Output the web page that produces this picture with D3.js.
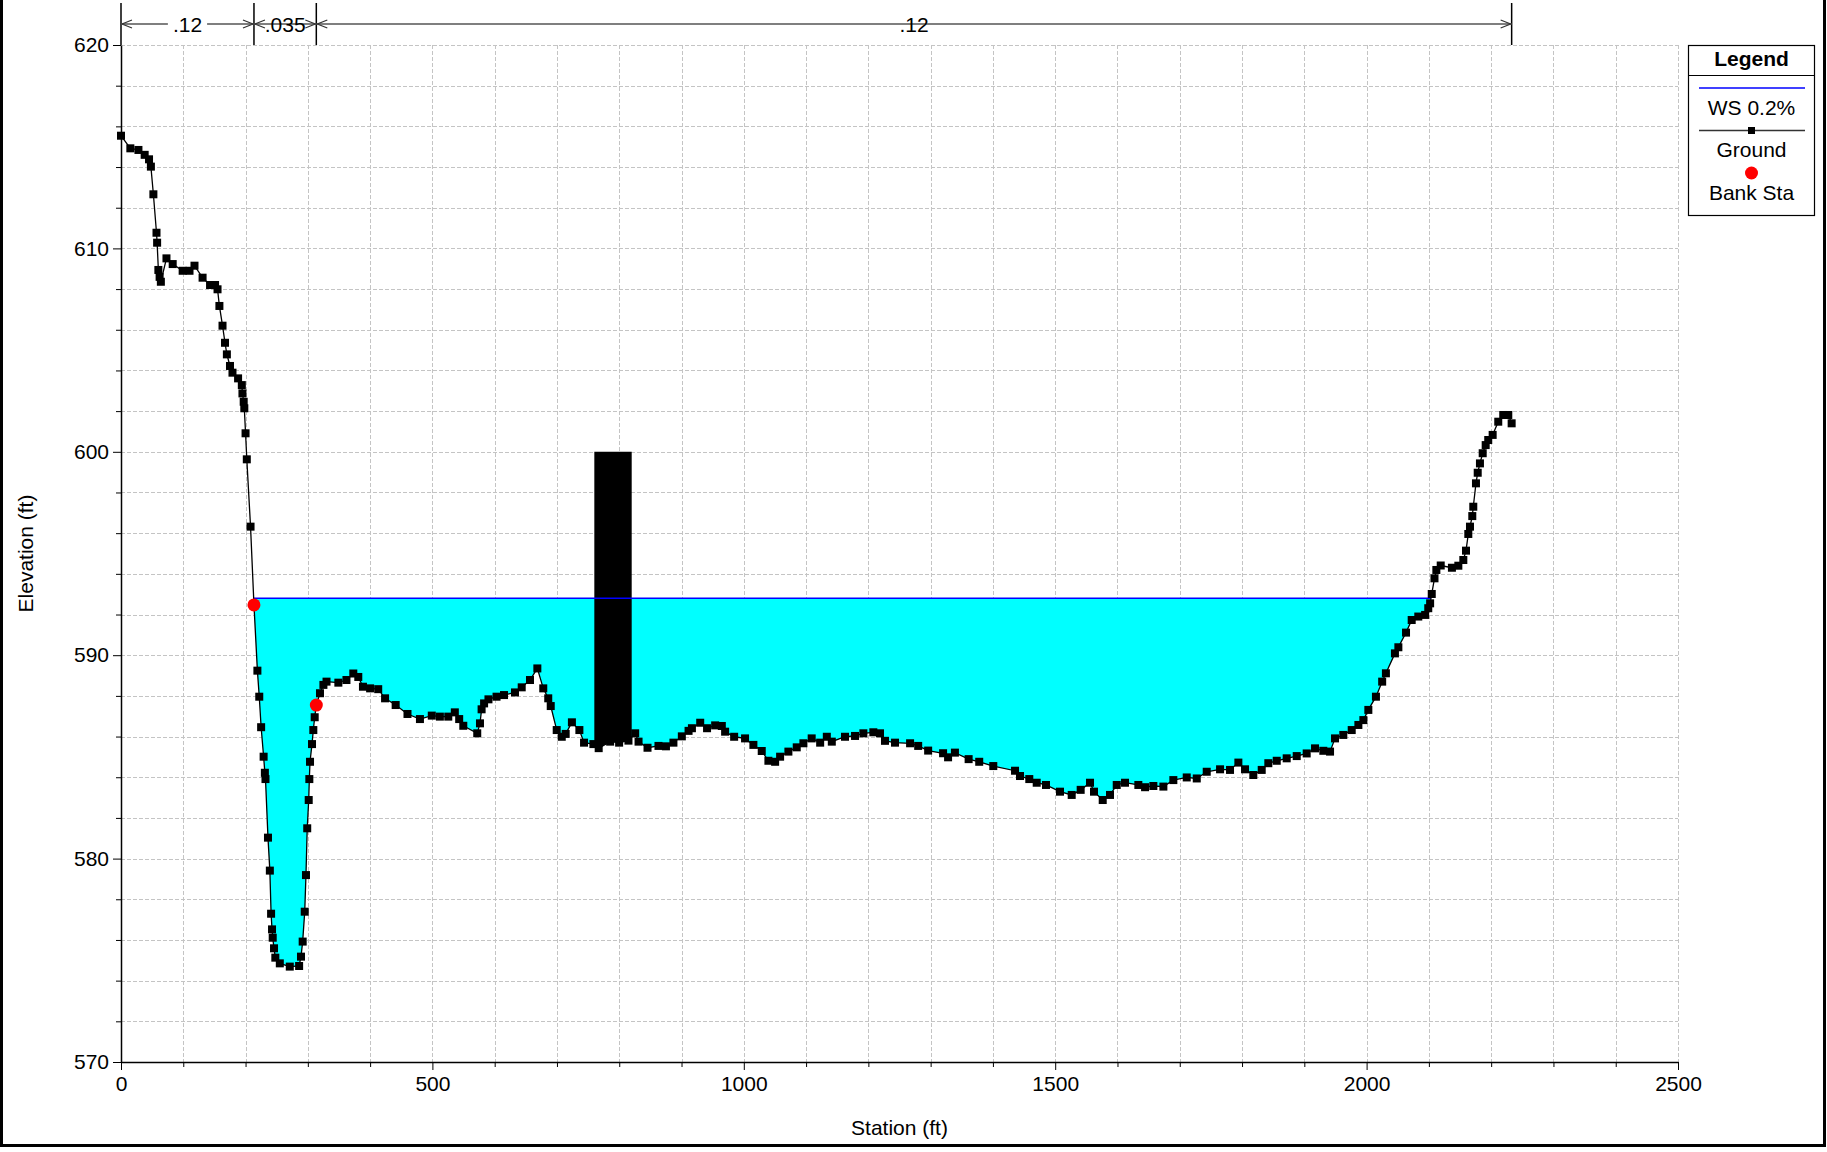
<!DOCTYPE html>
<html><head><meta charset="utf-8">
<script src="https://cdn.jsdelivr.net/npm/d3@7"></script>
<style>body{margin:0;background:#fff;} text{font-family:"Liberation Sans",Arial,sans-serif;}</style>
</head><body><svg id="c" width="1827" height="1152"></svg>
<script>
// ---------------- data ----------------
const groundSta = [0,15,28,38,45,48,52,57,58,60,62,64,73,83,99,110,118,131,143,151,155,158,163,167,170,175,179,188,194,195,197,198,200,202,208,213.5,
219,222,225,229,231,232,236,239,241,242.5,243.6,245.7,247.8,255,271,286,289,291.7,295,297,299,301.4,302.4,303.5,306.7,308.8,311,313.6,
319.5,325,330,349,362,373,381,388.5,400,413,424,441,460,480,499,512,525.5,536,543,549.6,572,576.4,579,583,590,603,615,632.6,643.4,656.7,668.5,
678,686,690,699.6,707.7,714,724,736,743.5,758.5,767,785.4,799.8,814.8,825.6,831,845.4,863,875,887,900.5,911.3,916.7,930,941,954,964.7,970,
984.5,1002,1015.4,1028.8,1039.5,1050.3,1058.3,1071.6,1085,1095.7,1109,1122.6,1133.3,1141.3,1162.5,1178.6,1192,1208,1218.7,1226.7,1242.8,
1267,1280,1296,1320,1328,1339,1361,1378,1400.6,1435.5,1443.5,1458.4,1470.3,1485.2,1507.7,1526.5,1540.9,1555.9,1562.3,1576.3,1588,1598.8,
1612.1,1633.5,1644.3,1657.6,1673.7,1689.7,1711.2,1727.3,1743.3,1764.7,1780.7,1794.1,1804.8,1818.1,1831.6,1842.2,1855.7,1871.7,1887.8,
1903.8,1917.2,1930.5,1941.3,1949.3,1962.6,1976.1,1986.8,1994.8,2002.8,2015,2025,2031,2045.5,2051,2063.3,2072.4,2083,2094,2099,2102,2104.6,
2109,2112,2119,2137,2147.3,2155.3,2159.6,2163.3,2166,2169.7,2171.3,2175.6,2178.4,2182,2186.4,2191.2,2195.3,2202.4,2211.4,2219.4,2227.5,2232.9];
const groundElev = [615.54,614.92,614.84,614.6,614.38,614.02,612.66,610.77,610.28,608.94,608.6,608.36,609.51,609.23,608.9,608.9,609.15,608.56,608.2,608.2,607.99,607.17,606.2,605.36,604.79,604.22,603.89,603.61,603.28,602.87,602.46,602.14,600.91,599.63,596.32,592.47,
589.24,587.96,586.46,585.01,584.22,583.91,581.03,579.41,577.29,576.52,576.11,575.59,575.13,574.85,574.69,574.72,575.18,575.92,577.39,579.19,581.49,582.88,583.91,584.76,585.63,586.32,586.95,587.55,
588.13,588.54,588.7,588.65,588.78,589.1,588.93,588.45,588.37,588.33,587.88,587.55,587.11,586.86,587.03,586.98,586.98,587.19,586.86,586.53,586.16,586.65,587.34,587.63,587.83,587.96,588.04,588.17,588.42,588.78,589.35,
588.37,587.88,587.5,586.32,585.99,586.13,586.7,586.32,585.7,585.63,585.43,585.75,585.7,585.8,586.16,585.75,585.45,585.54,585.52,585.7,586.01,586.28,586.41,586.68,586.41,586.55,586.52,586.24,
585.99,585.91,585.59,585.29,584.81,584.76,585.01,585.26,585.47,585.67,585.91,585.7,585.99,585.75,585.99,586.03,586.16,586.21,586.16,585.79,585.7,
585.67,585.54,585.31,585.18,584.98,585.21,584.89,584.76,584.55,584.32,584.06,583.91,583.73,583.62,583.29,583.13,583.38,583.73,583.29,582.88,583.13,583.62,
583.73,583.62,583.51,583.57,583.54,583.86,583.99,583.94,584.27,584.39,584.36,584.72,584.39,584.11,584.36,584.69,584.81,584.93,585.04,
585.17,585.42,585.3,585.26,585.91,586.08,586.32,586.57,586.81,587.31,587.96,588.7,589.11,590.09,590.39,591.11,591.73,591.9,591.98,592.31,592.55,593.01,
593.78,594.19,594.41,594.3,594.4,594.68,595.14,595.96,596.32,596.84,597.3,598.45,598.97,599.43,599.93,600.33,600.58,600.83,601.48,601.81,601.81,601.4];
const bankSta = [213.5, 313.6];
const bankElev = [592.47, 587.55];
const wsElev = 592.8;
const obstSta = [760, 820];
const obstTop = 600;
const nBreaks = [0, 213.5, 313.6, 2232.9];
const nLabels = [".12", ".035", ".12"];
const xTicks = [0, 500, 1000, 1500, 2000, 2500];
const yTicks = [570, 580, 590, 600, 610, 620];
const legendLabels = ["WS 0.2%", "Ground", "Bank Sta"];

// ---------------- layout ----------------
const svg = d3.select("#c");
const L = 121, R = 1678, T = 45, B = 1062;
const x = d3.scaleLinear().domain([0, 2500]).range([L, R]);
const y = d3.scaleLinear().domain([570, 620]).range([B, T]);
const ground = groundSta.map((s, i) => ({s, e: groundElev[i]}));
function groundAt(s) {
  const i = d3.bisector(d => d.s).left(ground, s);
  if (i <= 0) return ground[0].e;
  if (i >= ground.length) return ground[ground.length - 1].e;
  const a = ground[i - 1], b = ground[i];
  return a.e + (b.e - a.e) * (s - a.s) / (b.s - a.s);
}

// grid
const grid = svg.append("g").attr("stroke", "#c4c4c4").attr("stroke-width", 1).attr("stroke-dasharray", "4,2").attr("fill", "none");
d3.range(570, 620.01, 2).forEach(v => grid.append("line").attr("x1", L).attr("x2", R).attr("y1", Math.round(y(v)) + 0.5).attr("y2", Math.round(y(v)) + 0.5));
d3.range(0, 2500.01, 100).forEach(v => grid.append("line").attr("y1", T).attr("y2", B).attr("x1", Math.round(x(v)) + 0.5).attr("x2", Math.round(x(v)) + 0.5));

// water fill
let iL = ground.findIndex((d, i) => i > 0 && ground[i - 1].e >= wsElev && d.e < wsElev);
let iR = -1;
for (let i = ground.length - 1; i > 0; i--) { if (ground[i].e >= wsElev && ground[i - 1].e < wsElev) { iR = i; break; } }
const cross = (a, b) => a.s + (wsElev - a.e) * (b.s - a.s) / (b.e - a.e);
const xL = cross(ground[iL - 1], ground[iL]);
const xR = cross(ground[iR - 1], ground[iR]);
const wet = [{s: xL, e: wsElev}].concat(ground.slice(iL, iR)).concat([{s: xR, e: wsElev}]);
svg.append("path").datum(wet)
  .attr("d", d3.area().x(d => x(d.s)).y0(d => y(d.e)).y1(y(wsElev)))
  .attr("fill", "#00ffff");

// obstruction
const obst = [{s: obstSta[0], e: obstTop}, {s: obstSta[1], e: obstTop}, {s: obstSta[1], e: groundAt(obstSta[1])}]
  .concat(ground.filter(d => d.s > obstSta[0] && d.s < obstSta[1]).reverse())
  .concat([{s: obstSta[0], e: groundAt(obstSta[0])}]);
svg.append("path").attr("d", d3.line().x(d => x(d.s)).y(d => y(d.e))(obst) + "Z").attr("fill", "#000");

// WS line
svg.append("line").attr("x1", x(xL)).attr("x2", x(xR)).attr("y1", y(wsElev)).attr("y2", y(wsElev))
  .attr("stroke", "#0000ff").attr("stroke-width", 1.5);

// ground line + markers
svg.append("path").datum(ground).attr("d", d3.line().x(d => x(d.s)).y(d => y(d.e)))
  .attr("fill", "none").attr("stroke", "#000").attr("stroke-width", 1.3);
const ms = 8;
svg.append("g").selectAll("rect").data(ground).join("rect")
  .attr("x", d => x(d.s) - ms / 2).attr("y", d => y(d.e) - ms / 2).attr("width", ms).attr("height", ms).attr("fill", "#000");

// bank stations
svg.append("g").selectAll("circle").data(bankSta).join("circle")
  .attr("cx", d => x(d)).attr("cy", (d, i) => y(bankElev[i])).attr("r", 6.5).attr("fill", "#ff0000");

// axes
const fs = 21;
svg.append("g").attr("transform", `translate(${L},0)`)
  .call(d3.axisLeft(y).tickValues(yTicks).tickSize(8).tickSizeOuter(0).tickPadding(4).tickFormat(d3.format("d")));
svg.append("g").attr("transform", `translate(${L},0)`)
  .call(d3.axisLeft(y).tickValues(d3.range(570, 620.01, 2).filter(v => v % 10)).tickSize(5).tickSizeOuter(0).tickFormat(""))
  .call(g => g.select(".domain").remove());
svg.append("g").attr("transform", `translate(0,${B})`)
  .call(d3.axisBottom(x).tickValues(xTicks).tickSize(8).tickSizeOuter(0).tickPadding(6).tickFormat(d3.format("d")));
svg.append("g").attr("transform", `translate(0,${B})`)
  .call(d3.axisBottom(x).tickValues(d3.range(0, 2500.01, 100).filter(v => v % 500)).tickSize(5).tickSizeOuter(0).tickFormat(""))
  .call(g => g.select(".domain").remove());
svg.selectAll(".domain").attr("stroke", "#000").attr("stroke-width", 1.5);
svg.selectAll(".tick line").attr("stroke", "#000");
svg.selectAll(".tick text").attr("font-size", fs).attr("font-family", '"Liberation Sans",Arial,sans-serif').attr("fill", "#000");

svg.append("text").attr("x", (L + R) / 2).attr("y", 1135).attr("text-anchor", "middle").attr("font-size", fs).text("Station (ft)");
svg.append("text").attr("transform", `translate(33,${(T + B) / 2}) rotate(-90)`).attr("text-anchor", "middle").attr("font-size", fs).text("Elevation (ft)");

// Manning's n annotation
const ann = svg.append("g");
const ay = 24;
nBreaks.forEach(s => ann.append("line").attr("x1", x(s)).attr("x2", x(s)).attr("y1", 3).attr("y2", T).attr("stroke", "#000").attr("stroke-width", 1.5));
nLabels.forEach((lab, i) => {
  const a = x(nBreaks[i]), b = x(nBreaks[i + 1]), c = (a + b) / 2;
  ann.append("line").attr("x1", a).attr("x2", b).attr("y1", ay).attr("y2", ay).attr("stroke", "#555").attr("stroke-width", 1.5);
  const t = ann.append("text").attr("x", c).attr("y", ay + 8).attr("text-anchor", "middle").attr("font-size", fs).text(lab);
  const bb = t.node().getBBox();
  ann.insert("rect", "text").attr("x", bb.x - 5).attr("y", ay - 3).attr("width", bb.width + 10).attr("height", 6).attr("fill", "#fff");
  ann.append("path").attr("d", `M${a + 11},${ay - 4}L${a + 1},${ay}L${a + 11},${ay + 4}`).attr("fill", "none").attr("stroke", "#333").attr("stroke-width", 1.2);
  ann.append("path").attr("d", `M${b - 11},${ay - 4}L${b - 1},${ay}L${b - 11},${ay + 4}`).attr("fill", "none").attr("stroke", "#333").attr("stroke-width", 1.2);
});

// legend
const lg = svg.append("g");
lg.append("rect").attr("x", 1688.5).attr("y", 45.5).attr("width", 126).attr("height", 170).attr("fill", "#fff").attr("stroke", "#000").attr("stroke-width", 1.2);
lg.append("line").attr("x1", 1688.5).attr("x2", 1814.5).attr("y1", 75.5).attr("y2", 75.5).attr("stroke", "#000").attr("stroke-width", 1.2);
const lc = 1751.5;
lg.append("text").attr("x", lc).attr("y", 66).attr("text-anchor", "middle").attr("font-size", fs).attr("font-weight", "bold").text("Legend");
lg.append("line").attr("x1", 1699).attr("x2", 1805).attr("y1", 88).attr("y2", 88).attr("stroke", "#0000ff").attr("stroke-width", 1.5);
lg.append("text").attr("x", lc).attr("y", 114.5).attr("text-anchor", "middle").attr("font-size", fs).text(legendLabels[0]);
lg.append("line").attr("x1", 1699).attr("x2", 1805).attr("y1", 130.5).attr("y2", 130.5).attr("stroke", "#333").attr("stroke-width", 1.5);
lg.append("rect").attr("x", lc - 3.5).attr("y", 127).attr("width", 7).attr("height", 7).attr("fill", "#000");
lg.append("text").attr("x", lc).attr("y", 156.5).attr("text-anchor", "middle").attr("font-size", fs).text(legendLabels[1]);
lg.append("circle").attr("cx", lc).attr("cy", 173).attr("r", 6.5).attr("fill", "#ff0000");
lg.append("text").attr("x", lc).attr("y", 199.5).attr("text-anchor", "middle").attr("font-size", fs).text(legendLabels[2]);

// outer frame
const fr = svg.append("g").attr("stroke", "#000").attr("stroke-width", 3);
fr.append("line").attr("x1", 1.5).attr("x2", 1.5).attr("y1", 0).attr("y2", 1147);
fr.append("line").attr("x1", 1824.5).attr("x2", 1824.5).attr("y1", 0).attr("y2", 1147);
fr.append("line").attr("x1", 0).attr("x2", 1826).attr("y1", 1145.5).attr("y2", 1145.5);
</script></body></html>
